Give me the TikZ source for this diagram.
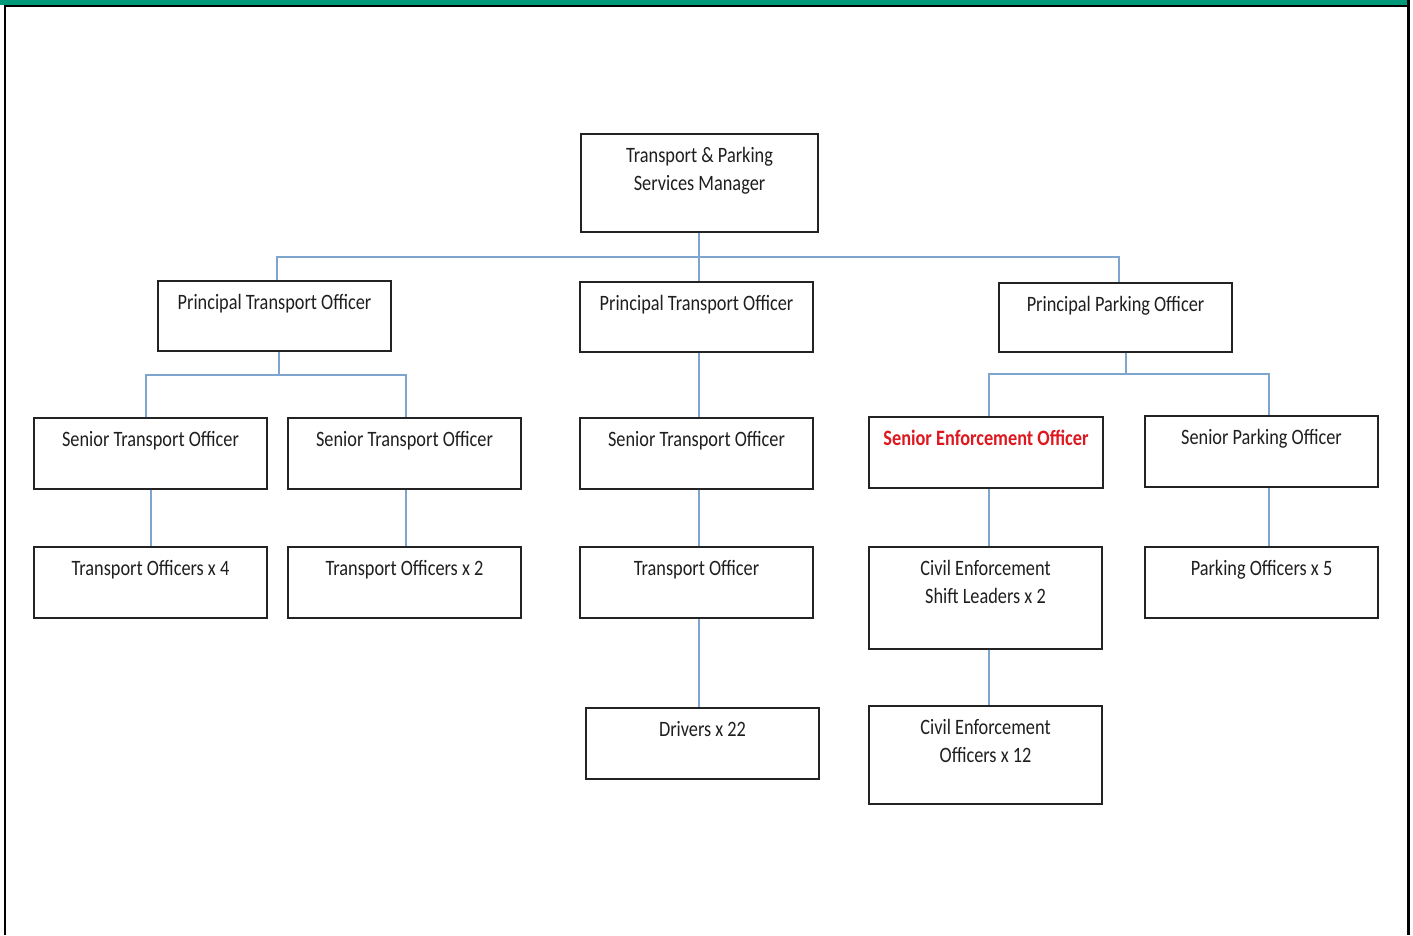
\documentclass[tikz,border=0pt]{standalone}
\usepackage{fontspec}
\setmainfont{Carlito}
\usepackage{graphicx}
\definecolor{bandgreen}{RGB}{0,153,122}
\definecolor{connblue}{RGB}{125,165,205}
\definecolor{boxline}{RGB}{35,35,35}
\definecolor{redtxt}{RGB}{222,24,32}
\newcommand{\sq}[1]{\scalebox{1}[1.2]{#1}}
% #7 = distance from box top to the baseline of the LAST text line
\newcommand{\orgbox}[7]{%
  \node[orgrect, minimum width={#4-#2}, minimum height={#5-#3}] (#1) at ({(#2+#4)/2},{(#3+#5)/2}) {};
  \node[orglbl] (#1-t) at ([yshift=-#7pt]#1.north) {#6};}
\tikzset{
  orgrect/.style={draw=boxline, line width=1.3pt, rectangle, inner sep=0pt, fill=white},
  orglbl/.style={font=\fontsize{18.3}{28}\selectfont, align=center, anchor=base, inner sep=0pt, text=black!88},
  conn/.style={draw=connblue, line width=1.3pt},
}
\begin{document}
\begin{tikzpicture}[x=1pt,y=-1pt]
\useasboundingbox (0,0) rectangle (1413,935);
\fill[white] (0,0) rectangle (1413,935);
% frame
\fill[bandgreen] (0,0) rectangle (1407,5);
\fill[black] (4,5) rectangle (1410,7);
\fill[black] (4,5) rectangle (6,935);
\fill[black] (1407,0) rectangle (1410,935);

% boxes
\orgbox{top}{581}{134}{818}{232}{\sq{Transport \& Parking}\\\sq{Services Manager}}{57}
\orgbox{pto1}{158}{281}{391}{351}{\sq{Principal Transport Officer}}{29}
\orgbox{pto2}{580}{282}{813}{352}{\sq{Principal Transport Officer}}{29}
\orgbox{ppo}{999}{283}{1232}{352}{\sq{Principal Parking Officer}}{29}
\orgbox{sto1}{34}{418}{267}{489}{\sq{Senior Transport Officer}}{29}
\orgbox{sto2}{288}{418}{521}{489}{\sq{Senior Transport Officer}}{29}
\orgbox{sto3}{580}{418}{813}{489}{\sq{Senior Transport Officer}}{29}
\orgbox{seo}{869}{417}{1103}{488}{\sq{\bfseries\color{redtxt}Senior Enforcement Officer}}{29}
\orgbox{spo}{1145}{416}{1378}{487}{\sq{Senior Parking Officer}}{29}
\orgbox{to4}{34}{547}{267}{618}{\sq{Transport Officers x 4}}{29}
\orgbox{to2}{288}{547}{521}{618}{\sq{Transport Officers x 2}}{29}
\orgbox{to1}{580}{547}{813}{618}{\sq{Transport Officer}}{29}
\orgbox{cesl}{869}{547}{1102}{649}{\sq{Civil Enforcement}\\\sq{Shift Leaders x 2}}{57}
\orgbox{po5}{1145}{547}{1378}{618}{\sq{Parking Officers x 5}}{29}
\orgbox{drv}{586}{708}{819}{779}{\sq{Drivers x 22}}{29}
\orgbox{ceo}{869}{706}{1102}{804}{\sq{Civil Enforcement}\\\sq{Officers x 12}}{57}

% level 1
\draw[conn] (top.south -| 699,0) -- (699,257);
\draw[conn] (pto1.north -| 277,0) -- (277,257) -- (1119,257) -- (ppo.north -| 1119,0);
\draw[conn] (699,257) -- (pto2.north -| 699,0);
% PTO1 children
\draw[conn] (pto1.south -| 279,0) -- (279,375);
\draw[conn] (sto1.north -| 146,0) -- (146,375) -- (406,375) -- (sto2.north -| 406,0);
% PTO2 child
\draw[conn] (pto2.south -| 699,0) -- (sto3.north -| 699,0);
% PPO children
\draw[conn] (ppo.south -| 1126,0) -- (1126,374);
\draw[conn] (seo.north -| 989,0) -- (989,374) -- (1269,374) -- (spo.north -| 1269,0);
% row 3 to 4
\draw[conn] (sto1.south -| 151,0) -- (to4.north -| 151,0);
\draw[conn] (sto2.south -| 406,0) -- (to2.north -| 406,0);
\draw[conn] (sto3.south -| 699,0) -- (to1.north -| 699,0);
\draw[conn] (seo.south -| 989,0) -- (cesl.north -| 989,0);
\draw[conn] (spo.south -| 1269,0) -- (po5.north -| 1269,0);
% row 4 to 5
\draw[conn] (to1.south -| 699,0) -- (drv.north -| 699,0);
\draw[conn] (cesl.south -| 989,0) -- (ceo.north -| 989,0);
\end{tikzpicture}
\end{document}
